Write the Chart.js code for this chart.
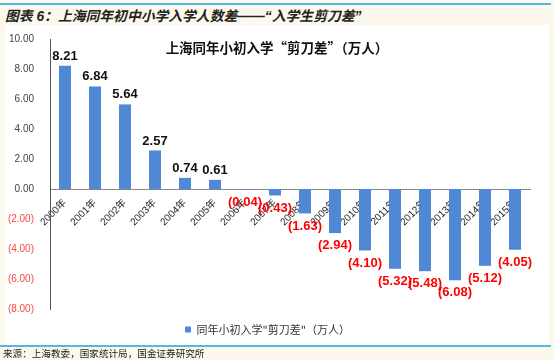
<!DOCTYPE html>
<html>
<head>
<meta charset="utf-8">
<script src="https://cdn.jsdelivr.net/npm/chart.js@4"></script>
<style>
  html, body { margin: 0; padding: 0; }
  body { width: 554px; height: 360px; background: #fdf8ec; position: relative; overflow: hidden;
         font-family: "Liberation Sans", Arial, "Noto Sans CJK SC", sans-serif; }
  .rule { position: absolute; left: 0; width: 551px; height: 2px; background: #4dbbe6; z-index: 2; }
  #header { position: absolute; left: 5px; top: 5px; font-size: 13.8px; font-weight: bold; font-style: italic;
            color: #222; font-family: "Liberation Sans", "Noto Sans CJK SC", sans-serif; white-space: nowrap; }
  #box { position: absolute; left: 5px; top: 25px; width: 544px; height: 320px; background: #fff; }
  #scissorChart { position: absolute; left: 0; top: 0; }
  #chartTitle { position: absolute; left: 0; width: 544px; top: 12px; text-align: center; font-size: 13.5px;
                font-weight: bold; color: #111; font-family: "Noto Sans CJK SC", sans-serif; }
  #source { position: absolute; left: 3px; top: 346px; font-size: 9.6px; color: #222;
            font-family: "Noto Sans CJK SC", sans-serif; white-space: nowrap; }
</style>
</head>
<body>
<div class="rule" style="top:3px"></div>
<div id="header">图表 6：上海同年初中小学入学人数差——“入学生剪刀差”</div>
<div id="box">
  <canvas id="scissorChart" width="544" height="326"></canvas>
  <div id="chartTitle">上海同年小初入学“剪刀差”（万人）</div>
</div>
<div class="rule" style="top:345px"></div>
<div id="source">来源：上海教委，国家统计局，国金证券研究所</div>

<script>
// Categories and values
const years = ['2000年', '2001年', '2002年', '2003年', '2004年', '2005年', '2006年', '2007年',
               '2008年', '2009年', '2010年', '2011年', '2012年', '2013年', '2014年', '2015年'];
const scissorGap = [8.21, 6.84, 5.64, 2.57, 0.74, 0.61, -0.04, -0.43,
                    -1.63, -2.94, -4.10, -5.32, -5.48, -6.08, -5.12, -4.05];
const yTicks = [10, 8, 6, 4, 2, 0, -2, -4, -6, -8];

const seriesName = '同年小初入学"剪刀差"（万人）';

function fmt(v) {
  return v < 0 ? '(' + Math.abs(v).toFixed(2) + ')' : v.toFixed(2);
}

// Value labels above / below each bar
const barLabels = {
  id: 'barLabels',
  afterDatasetsDraw(chart) {
    const ctx = chart.ctx;
    const meta = chart.getDatasetMeta(0);
    ctx.save();
    ctx.font = 'bold 13px "Liberation Sans", Arial, sans-serif';
    ctx.textAlign = 'center';
    meta.data.forEach((bar, i) => {
      const v = scissorGap[i];
      if (v >= 0) {
        ctx.fillStyle = '#111';
        ctx.textBaseline = 'bottom';
        ctx.fillText(fmt(v), bar.x, bar.y - 3);
      } else {
        ctx.fillStyle = '#ff0000';
        ctx.textBaseline = 'top';
        ctx.fillText(fmt(v), bar.x, bar.y + 6);
      }
    });
    ctx.restore();
  }
};

function createScissorChart() {
  const ctx = document.getElementById('scissorChart').getContext('2d');
  new Chart(ctx, {
    type: 'bar',
    data: {
      labels: years,
      datasets: [{
        label: seriesName,
        data: scissorGap,
        backgroundColor: '#4f88d4',
        barPercentage: 0.4,
        categoryPercentage: 1
      }]
    },
    options: {
      responsive: false,
      animation: false,
      layout: { padding: { top: 13, right: 19, bottom: 6, left: 0 } },
      plugins: {
        legend: {
          display: true,
          position: 'bottom',
          labels: {
            boxWidth: 6,
            boxHeight: 6,
            padding: 15,
            color: '#333',
            font: { size: 11, family: '"Noto Sans CJK SC", sans-serif' }
          }
        },
        title: { display: false },
        tooltip: { enabled: false }
      },
      scales: {
        x: {
          position: { y: 0 },
          grid: { display: false },
          border: { color: '#888', width: 1 },
          ticks: {
            minRotation: 45,
            maxRotation: 45,
            padding: 0,
            color: '#222',
            font: { size: 10, family: '"Liberation Sans", "Noto Sans CJK SC", sans-serif' }
          }
        },
        y: {
          min: -8,
          max: 10,
          afterFit(scale) { scale.width = 45; },
          afterBuildTicks(scale) { scale.ticks = yTicks.map(v => ({ value: v })); },
          grid: { display: false },
          border: { color: '#555', width: 1 },
          ticks: {
            padding: 8,
            font: { size: 10, family: '"Liberation Sans", Arial, sans-serif' },
            color: (c) => c.tick.value < 0 ? '#ff4444' : '#444',
            callback: (v) => fmt(v)
          }
        }
      }
    },
    plugins: [barLabels]
  });
}

createScissorChart();
</script>
</body>
</html>
